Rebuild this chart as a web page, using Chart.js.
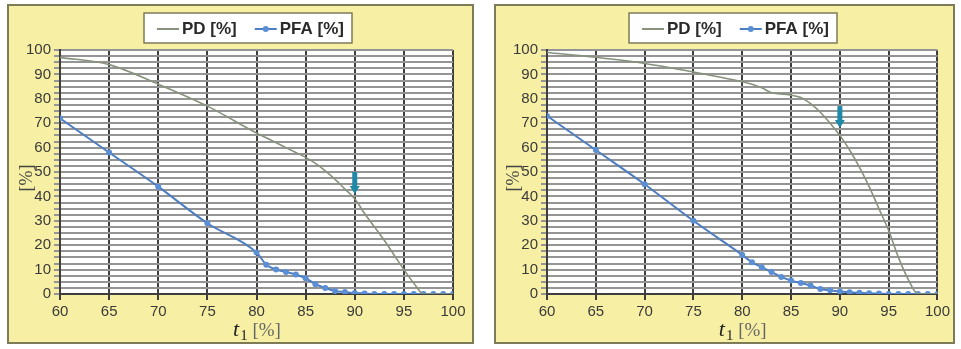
<!DOCTYPE html>
<html>
<head>
<meta charset="utf-8">
<script src="https://cdn.jsdelivr.net/npm/chart.js@4.4.1/dist/chart.umd.min.js"></script>
<style>
body{margin:0;background:#fff;}
.panel{position:absolute;top:4px;height:336px;background:#f7f0a4;border:2px solid #7d7b58;}
#p1{left:7px;width:463px;}
#p2{left:494px;width:457px;}
canvas{display:block;}
</style>
</head>
<body>
<div class="panel" id="p1"><canvas id="leftChart" width="463" height="336"></canvas></div>
<div class="panel" id="p2"><canvas id="rightChart" width="457" height="336"></canvas></div>
<script>

// ============================== DATA ==============================
const tValues = [60,65,70,75,80,81,82,83,84,85,86,87,88,89,90,91,92,93,94,95,96,97,98,99,100];

const pdLeft  = [97,94,86,77,66,64,62,60,58,56,53.5,50.5,47,43,39,33,27.5,22,16,10,4.5,0,0,0,0];
const pfaLeft = [72,58,44,29,17,12,10,9,8,6.5,4,2.5,1.2,0.8,0.4,0.2,0,0,0,0,0,0,0,0,0];

const pdRight  = [99,97,94.5,91,87,86,84.5,82.5,82,81.5,80.5,78,74.5,70,65,59,52,44,35,26,15,6,0,0,0];
const pfaRight = [73,59,45,30,16,13,11,9,7,5.5,4.5,3.5,2,1.5,1,0.7,0.5,0.3,0.2,0,0,0,0,0,0];

const seriesNames = ["PD [%]","PFA [%]"];
const xTickStep = 5;
const yGridStep = 2.5;
const yLabelStep = 10;

// arrows pointing at the working point (t1 = 90)
const arrowX    = [90,90];
const arrowFrom = [50,77];
const arrowTo   = [41,68];

// ============================== PLUGIN ==============================
const decor = {
id:"decor",
beforeDraw(chart){
const a = chart.chartArea, c = chart.ctx;
c.save();
c.fillStyle="#fff";
c.fillRect(a.left,a.top,a.right-a.left,a.bottom-a.top);
c.restore();
},
afterDraw(chart,args,opts){
const a = chart.chartArea, c = chart.ctx;
const xs = chart.scales.x, ys = chart.scales.y;
c.save();
c.setLineDash([]);

// legend
c.font='bold 17px "Liberation Sans", Arial';
const ds = chart.data.datasets;
const w1 = c.measureText(ds[0].label).width;
const w2 = c.measureText(ds[1].label).width;
const sample=22, gap=3, sep=18, padL=13, padR=8;
const boxW = padL+sample+gap+w1+sep+sample+gap+w2+padR;
const bx = Math.round((a.left+a.right)/2-9-boxW/2), by=7, bh=30;
c.fillStyle="#fff";
c.fillRect(bx,by,boxW,bh);
c.strokeStyle="#7d7b58";
c.lineWidth=1.5;
c.strokeRect(bx,by,boxW,bh);
const my = by+bh/2+1;
let px = bx+padL;
[[ds[0],w1],[ds[1],w2]].forEach(([d,w],i)=>{
c.strokeStyle=d.borderColor;
c.lineWidth=2;
c.beginPath();c.moveTo(px,my);c.lineTo(px+sample,my);c.stroke();
if(i===1){
c.fillStyle=d.pointBackgroundColor;
c.beginPath();c.arc(px+sample/2,my,3,0,Math.PI*2);c.fill();
}
c.fillStyle="#2a2a2a";
c.textBaseline="middle";
c.textAlign="left";
c.fillText(d.label,px+sample+gap,my);
px += sample+gap+w+sep;
});

// arrow
const ax = xs.getPixelForValue(opts.arrowX);
const y1 = ys.getPixelForValue(opts.arrowFrom);
const y2 = ys.getPixelForValue(opts.arrowTo);
c.strokeStyle="#1e8aa8";
c.fillStyle="#1e8aa8";
c.lineWidth=5;
c.lineCap="butt";
c.beginPath();c.moveTo(ax,y1);c.lineTo(ax,y2-7);c.stroke();
c.beginPath();c.moveTo(ax-5,y2-8);c.lineTo(ax+5,y2-8);c.lineTo(ax,y2);c.closePath();c.fill();

// y title
c.save();
c.translate(a.left-33,(a.top+a.bottom)/2+6);
c.rotate(-Math.PI/2);
c.font='18px "Liberation Serif", serif';
c.fillStyle="#444";
c.textAlign="center";
c.textBaseline="middle";
c.fillText("[%]",0,0);
c.restore();

// x title: t1 [%]
const tFont='italic 22px "Liberation Serif", serif';
const sFont='15px "Liberation Serif", serif';
const rFont='19px "Liberation Serif", serif';
c.textBaseline="alphabetic";
c.textAlign="left";
c.font=tFont; const tw=c.measureText("t").width;
c.font=sFont; const sw=c.measureText("1").width;
c.font=rFont; const rw=c.measureText(" [%]").width;
let tx=(a.left+a.right)/2-(tw+sw+rw)/2;
const base=a.bottom+42;
c.fillStyle="#222";
c.font=tFont; c.fillText("t",tx,base); tx+=tw+1;
c.font=sFont; c.fillText("1",tx,base+4); tx+=sw;
c.fillStyle="#666";
c.font=rFont; c.fillText(" [%]",tx,base);

c.restore();
}
};

// ============================== CHARTS ==============================
function makeChart(id,pd,pfa,k,padRight){

new Chart(document.getElementById(id),{

type:"line",

data:{
datasets:[{
label:seriesNames[0],
data:tValues.map((t,i)=>({x:t,y:pd[i]})),
borderColor:"#87927d",
borderWidth:1.6,
pointRadius:0,
cubicInterpolationMode:"monotone"
},{
label:seriesNames[1],
data:tValues.map((t,i)=>({x:t,y:pfa[i]})),
borderColor:"#4d7dc2",
borderWidth:2,
pointRadius:3,
pointBorderWidth:0,
pointBackgroundColor:"#5a8fd6",
cubicInterpolationMode:"monotone"
}]
},

options:{
responsive:false,
animation:false,
layout:{padding:{top:44,right:padRight,left:0,bottom:0}},
plugins:{
legend:{display:false},
tooltip:{enabled:false},
decor:{arrowX:arrowX[k],arrowFrom:arrowFrom[k],arrowTo:arrowTo[k]}
},
scales:{
x:{
type:"linear",
min:60,max:100,
afterFit(s){s.height=48;},
ticks:{stepSize:xTickStep,color:"#3a3a3a",font:{family:'"Liberation Sans", Arial',size:15},padding:3,maxRotation:0},
grid:{color:"#3e3e3e",lineWidth:2,tickLength:6},
border:{color:"#3e3e3e",width:2}
},
y:{
min:0,max:100,
afterFit(s){s.width=51;},
ticks:{stepSize:yGridStep,autoSkip:false,color:"#3a3a3a",font:{family:'"Liberation Sans", Arial',size:15},padding:3,
callback:v=>(v%yLabelStep===0?v:"")},
grid:{color:"#959595",lineWidth:2,tickLength:6},
border:{color:"#3e3e3e",width:2}
}
}
},

plugins:[decor]

});

}

makeChart("leftChart",pdLeft,pfaLeft,0,19);
makeChart("rightChart",pdRight,pfaRight,1,13);

</script>
</body>
</html>
